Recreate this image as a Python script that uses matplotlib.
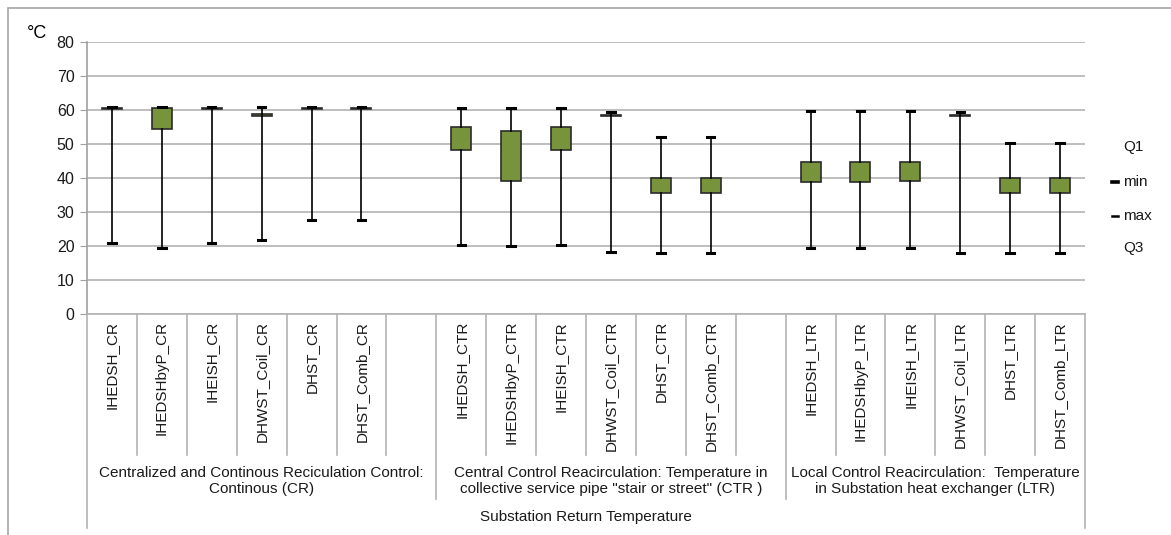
import matplotlib
matplotlib.use("Agg")
import matplotlib.pyplot as plt
from matplotlib.lines import Line2D
from matplotlib.patches import Rectangle

plt.rcParams["font.family"] = ["Liberation Sans", "DejaVu Sans"]

# slot labels along the x axis ('' = empty spacer slot between groups)
categories = [
    "IHEDSH_CR", "IHEDSHbyP_CR", "IHEISH_CR", "DHWST_Coil_CR", "DHST_CR", "DHST_Comb_CR", "",
    "IHEDSH_CTR", "IHEDSHbyP_CTR", "IHEISH_CTR", "DHWST_Coil_CTR", "DHST_CTR", "DHST_Comb_CTR", "",
    "IHEDSH_LTR", "IHEDSHbyP_LTR", "IHEISH_LTR", "DHWST_Coil_LTR", "DHST_LTR", "DHST_Comb_LTR",
]
group_labels = [
    "Centralized and Continous Reciculation Control:\nContinous (CR)",
    "Central Control Reacirculation: Temperature in\ncollective service pipe \"stair or street\" (CTR )",
    "Local Control Reacirculation:  Temperature\nin Substation heat exchanger (LTR)",
]
outer_label = "Substation Return Temperature"

# box statistics (°C), one entry per non-empty slot
t_min = [21.0, 19.5, 21.0, 21.7, 27.7, 27.7,
         20.3, 20.0, 20.3, 18.3, 18.0, 18.0,
         19.3, 19.3, 19.5, 18.0, 18.0, 18.0]
t_q1 = [60.3, 54.3, 60.3, 58.2, 60.3, 60.3,
        48.1, 39.0, 48.1, 58.2, 35.7, 35.7,
        38.7, 38.7, 39.0, 58.2, 35.7, 35.7]
t_q3 = [60.7, 60.6, 60.7, 58.9, 60.7, 60.7,
        54.9, 53.9, 54.9, 58.6, 39.9, 39.9,
        44.8, 44.8, 44.8, 58.6, 39.9, 39.9]
t_max = [60.9, 60.8, 60.9, 60.8, 60.9, 60.9,
         60.7, 60.7, 60.7, 59.3, 52.0, 52.0,
         59.7, 59.7, 59.7, 59.3, 50.2, 50.2]

W, H = 1171, 535
FS = 11
TXT = "#1a1a1a"
fig = plt.figure(figsize=(W / 100, H / 100), dpi=100)
ax = fig.add_axes([87 / W, 1 - 314 / H, (1085 - 87) / W, (314 - 42) / H])

positions = [i for i, c in enumerate(categories) if c]
stats = [dict(whislo=a, q1=b, med=b, q3=c, whishi=d)
         for a, b, c, d in zip(t_min, t_q1, t_q3, t_max)]

ax.bxp(stats, positions=positions, widths=0.4, capwidths=0.15,
       showfliers=False, patch_artist=True,
       boxprops=dict(facecolor="#77933C", edgecolor="#2b2b2b", linewidth=1.2),
       whiskerprops=dict(color="black", linewidth=1.2),
       capprops=dict(color="black", linewidth=2.2),
       medianprops=dict(linewidth=0), zorder=3)

ax.set_xlim(-0.5, len(categories) - 0.5)
ax.set_ylim(0, 80)
ax.set_yticks(range(0, 81, 10))
ax.yaxis.grid(True, color="#b3b3b3", linewidth=1.2)
ax.set_axisbelow(True)
for s in ["top", "right"]:
    ax.spines[s].set_visible(False)
ax.spines["left"].set_color("#a0a0a0")
ax.spines["bottom"].set_color("#b3b3b3")
ax.spines["left"].set_linewidth(1.2)
ax.spines["bottom"].set_linewidth(1.2)
ax.tick_params(axis="y", length=5, color="#a0a0a0", labelsize=11.5,
               labelcolor=TXT, pad=4)

ax.set_xticks(range(len(categories)))
ax.set_xticklabels(categories, rotation=90, fontsize=FS, color=TXT,
                   va="top", ha="center")
ax.tick_params(axis="x", length=0, pad=5)

# category table lines below the axis
tr = ax.get_xaxis_transform()
sep_kw = dict(transform=tr, clip_on=False, color="#b3b3b3", linewidth=1.2)
for k in range(len(categories) - 1):
    b = k + 0.5
    if b in (6.5, 13.5):
        ax.add_line(Line2D([b, b], [0, -0.68], **sep_kw))
    else:
        ax.add_line(Line2D([b, b], [0, -0.52], **sep_kw))
for b in (-0.5, len(categories) - 0.5):
    ax.add_line(Line2D([b, b], [0, -0.785], **sep_kw))

for (lo, hi), lab in zip([(-0.5, 6.5), (6.5, 13.5), (13.5, 19.5)], group_labels):
    ax.text((lo + hi) / 2, -0.613, lab, transform=tr, ha="center", va="center",
            fontsize=FS, color=TXT, linespacing=1.18)
ax.text((len(categories) - 1) / 2, -0.746, outer_label, transform=tr,
        ha="center", va="center", fontsize=FS, color=TXT)

# unit label
fig.text(27 / W, 1 - 33 / H, "°C", fontsize=13, va="center", ha="left",
         color="black")

# side legend
legend_rows = [("Q1", 147, None), ("min", 182, 2.6), ("max", 216, 1.8), ("Q3", 248, None)]
for lab, yp, lw in legend_rows:
    fig.text(1123 / W, 1 - yp / H, lab, fontsize=FS, va="center", ha="left",
             color=TXT)
    if lw:
        fig.add_artist(Line2D([1112 / W, 1118 / W], [1 - yp / H, 1 - yp / H],
                              color="black", linewidth=lw,
                              transform=fig.transFigure))

# outer chart frame
fig.add_artist(Rectangle((8 / W, -0.05), 1.2, 1 - 8 / H + 0.05,
                         transform=fig.transFigure, fill=False,
                         edgecolor="#a6a6a6", linewidth=1.2))

fig.savefig("out.png", dpi=100)
